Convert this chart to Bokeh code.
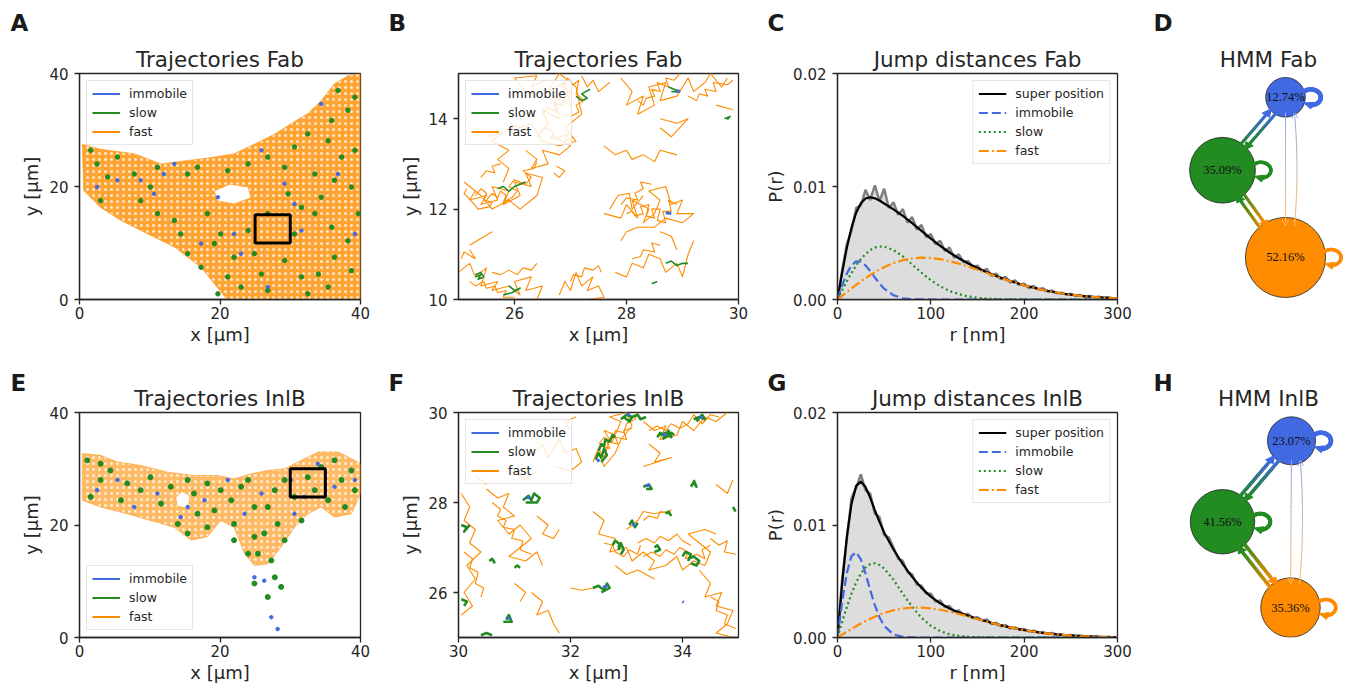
import math
from bokeh.plotting import figure
from bokeh.layouts import row, column
from bokeh.models import Range1d, FixedTicker, Title, Legend, LegendItem, NumeralTickFormatter
from bokeh.embed import file_html
from bokeh.resources import INLINE
from bokeh.core.properties import value

FONT = "DejaVu Sans"
INK = "#262626"
STATES = ["immobile", "slow", "fast"]
COLORS = {"immobile": "#4169e1", "slow": "#228b22", "fast": "#ff8c00"}

# ------------------------------------------------------------------ data
# zoom windows shown in B / F (µm)
fab_zoom_x = [25, 30]
fab_zoom_y = [10, 15]
inlb_zoom_x = [30, 35]
inlb_zoom_y = [25, 30]

# outline of the area covered by trajectories (µm)
fab_cell_x = [0.4, 3, 7.8, 11.6, 15.4, 19.2, 22, 24.9, 27.8, 30.1, 32.5, 34.4, 36.3, 38.2, 40, 40, 21, 17.3, 13.5, 9.7, 5.9, 3, 0.6]
fab_cell_y = [27.5, 26.6, 25.8, 24, 24.6, 25.2, 25.8, 27.5, 29.3, 31.1, 32.9, 35.2, 38.2, 39.6, 40, 0, 0, 5.7, 9.3, 11.6, 14, 16.3, 19.3]
fab_hole_x = [19.6, 22, 24.4, 24.0, 21.4, 19.2]
fab_hole_y = [17.5, 16.9, 18.0, 19.9, 20.4, 19.2]

inlb_cell_x = [0.4, 3, 5.4, 8.7, 12.5, 16.3, 19.7, 22, 24.4, 26.8, 29.2, 31.6, 34, 36.8, 38.7, 40,
               40, 38.7, 36.3, 34.4, 32.5, 30.6, 28.7, 26.8, 24.9, 23.5, 22, 20.1, 18.2, 15.9, 13.5, 10.1, 6.8, 3, 0.4]
inlb_cell_y = [32.7, 32.4, 31.2, 30.6, 29.4, 28.8, 28.8, 28.2, 29.1, 29.7, 30, 31.5, 33, 33, 31.8, 30.9,
               25.6, 22, 21.4, 23.2, 22, 19.6, 16.1, 13.1, 12.8, 14.9, 19.6, 20.8, 17.9, 17.3, 19.6, 20.8, 22, 23.2, 24.4]
inlb_hole_x = [13.9, 15.5, 15.7, 14.6, 13.7]
inlb_hole_y = [23.4, 22.9, 25.2, 26.0, 24.9]

# slow / immobile spots in the overview panels (µm)
fab_slow_pts = [(1.6, 26.4), (2.5, 24), (4, 21.7), (3, 17.5), (5.4, 25.2), (7.8, 22.2), (8.7, 17.5), (10.1, 19.9),
                (11.1, 23.4), (11.1, 15.2), (13.5, 14), (14.4, 11.6), (15.4, 22.2), (16.8, 23.4), (18.2, 15.2),
                (15.4, 8.1), (17.3, 5.7), (19.2, 9.9), (21.1, 4), (22, 7.5), (23, 2.2), (19.7, 1), (24.9, 8.1),
                (25.9, 4.5), (26.8, 1.6), (29.2, 6.9), (31.6, 4), (32.5, 1), (34, 4.5), (35.4, 2.2), (36.3, 7.5),
                (38.7, 5.1), (38.2, 10.4), (35.9, 12.8), (33.5, 15.2), (34.4, 18.1), (36.3, 21.1), (38.7, 19.9),
                (37.3, 25.2), (35.4, 28.1), (35.9, 31.7), (38.2, 33.5), (39.2, 35.8), (36.8, 37), (32.5, 29.3),
                (30.6, 27), (29.2, 23.4), (26.8, 25.2), (24, 24), (21.1, 22.8), (29.7, 18.7), (31.6, 16.3),
                (30.6, 11.6), (24, 12.2), (26.8, 15.2), (20.1, 11.6), (39.7, 15.2), (39.2, 26.4), (33.5, 22.2)]
fab_imm_pts = [(2.5, 19.9), (5.4, 21.1), (12, 22.2), (10.6, 18.7), (13.5, 24), (22, 11.6), (23, 8.1), (31.6, 12.2),
               (29.2, 20.5), (34.4, 34.6), (36.8, 22.2), (26.8, 2.2), (19.7, 18.1), (39.2, 11.6), (30.6, 16.9),
               (8.7, 21.1), (17.3, 9.9), (25.9, 26.4)]
inlb_slow_pts = [(1.1, 31.5), (3, 28), (1.6, 25), (4.4, 29.7), (6.8, 27.4), (5.9, 24.4), (8.7, 26.2), (10.1, 28.5),
                 (11.6, 23.8), (13, 26.8), (14, 20.2), (15.4, 18.5), (16.3, 25.6), (18.2, 27.4), (19.2, 22.6),
                 (20.1, 26.2), (21.6, 24.4), (22, 20.2), (23, 26.8), (24, 28), (24.9, 23.2), (24.9, 17.9),
                 (25.4, 14.9), (26.3, 18.5), (26.8, 23.2), (27.8, 26.2), (29.2, 28), (30.6, 25), (31.6, 20.8),
                 (32.5, 28.5), (33.5, 26.2), (34.4, 30.3), (36.3, 31.5), (37.3, 28), (38.7, 29.7), (39.2, 26.2),
                 (35.4, 24.4), (37.8, 23.2), (28.2, 20.2), (29.2, 17.3), (22, 17.3), (18.2, 19.6), (3, 30.9),
                 (15.4, 28), (16.8, 22), (24, 14.9), (27.3, 13.7), (24.9, 9.6), (26.8, 7.2), (27.8, 10.7), (28.7, 9)]
inlb_imm_pts = [(2.5, 26.2), (5.4, 28), (7.8, 23.2), (11.1, 25.6), (14.4, 21.4), (17.8, 24.4), (21.1, 28), (23.5, 22),
                (25.9, 25.6), (30.1, 28), (33.9, 30.9), (36.3, 26.8), (39.2, 28), (24.9, 10.7), (27.3, 3.6),
                (28.2, 1.5), (26.3, 10.1), (30.6, 22), (15.4, 23.2), (32, 25)]

# trajectories in the zoomed panels (µm), one list of points per trajectory
fab_zoom_traj = {
    "fast": [
        [[26.4, 13.6], [26.6, 13.9], [26.5, 14.2], [26.8, 14.0], [26.7, 14.5], [27.0, 14.3], [26.9, 14.8], [26.6, 14.6], [26.8, 15.0], [27.1, 14.7], [27.2, 14.1], [26.9, 13.8], [27.1, 13.5], [26.8, 13.4], [26.5, 13.5], [26.3, 13.9], [26.1, 13.8], [25.9, 13.9]],
        [[26.2, 14.6], [26.0, 14.9], [26.4, 14.95], [26.3, 14.7], [26.55, 14.85]],
        [[26.2, 13.3], [26.4, 13.1], [26.3, 12.9], [26.6, 13.0], [26.5, 13.3], [26.8, 13.2], [27.0, 13.4], [26.7, 13.6]],
        [[25.1, 12.6], [25.3, 12.4], [25.2, 12.2], [25.5, 12.3], [25.4, 12.1], [25.7, 12.2], [25.6, 12.5], [25.9, 12.4], [25.8, 12.1], [26.1, 12.3], [26.0, 12.6], [26.3, 12.5], [26.2, 12.8], [26.5, 12.7], [26.4, 12.3], [26.1, 12.0], [25.9, 12.2], [25.6, 12.0], [25.4, 12.3], [25.2, 12.5]],
        [[25.8, 12.6], [25.9, 12.9], [25.7, 13.1], [25.9, 13.3], [25.6, 13.5], [25.8, 13.7], [25.5, 13.6]],
        [[25.0, 10.6], [25.2, 10.8], [25.3, 10.5], [25.5, 10.7], [25.4, 10.3], [25.7, 10.4], [25.6, 10.2], [25.9, 10.3], [26.1, 10.1], [26.0, 10.4], [26.3, 10.5], [26.2, 10.2], [26.5, 10.3], [26.4, 10.0]],
        [[25.05, 10.9], [25.1, 11.05], [25.3, 10.9], [25.2, 11.1]],
        [[26.8, 10.1], [26.9, 10.4], [27.0, 10.2], [27.1, 10.6], [27.2, 10.3], [27.4, 10.5], [27.3, 10.2], [27.5, 10.3], [27.6, 10.05], [27.3, 10.0]],
        [[27.6, 11.9], [27.9, 11.8], [28.0, 12.1], [28.2, 11.8], [28.1, 12.2], [28.4, 12.0], [28.3, 11.7], [28.5, 11.9], [28.6, 12.2], [28.4, 12.4], [28.7, 12.5], [28.8, 12.1], [29.0, 12.2], [28.9, 11.9], [29.2, 11.9], [29.0, 11.7], [28.7, 11.8], [28.5, 11.6], [28.2, 11.6], [28.0, 11.5], [27.9, 11.3]],
        [[27.7, 12.0], [27.85, 12.3], [28.05, 12.35], [28.1, 12.0], [28.3, 12.3]],
        [[27.8, 10.6], [28.0, 10.5], [28.1, 10.8], [28.3, 10.7], [28.4, 11.0], [28.6, 10.9], [28.7, 10.6], [28.9, 10.8], [29.0, 10.5], [29.1, 11.0], [29.2, 11.3]],
        [[28.9, 11.1], [28.8, 11.4], [28.6, 11.5]],
        [[27.9, 14.9], [28.1, 14.6], [28.0, 14.3], [28.3, 14.5], [28.2, 14.1], [28.5, 14.3], [28.4, 14.7], [28.7, 14.8], [28.6, 14.4], [28.9, 14.5], [29.1, 14.9], [29.2, 14.6], [29.4, 14.8], [29.5, 15.0], [29.7, 14.7], [29.8, 14.9]],
        [[28.6, 14.0], [28.9, 13.9], [29.1, 14.0], [28.8, 13.6], [28.6, 13.8]],
        [[27.6, 13.4], [27.8, 13.2], [28.0, 13.3], [28.1, 13.1], [28.3, 13.2], [28.5, 13.05], [28.6, 13.3], [28.9, 13.2]],
        [[26.7, 12.8], [26.8, 12.7], [26.9, 12.85], [26.75, 12.95]],
        [[27.2, 14.95], [27.3, 14.7], [27.4, 14.85], [27.5, 14.6], [27.7, 14.8]],
        [[25.2, 11.2], [25.4, 11.35], [25.6, 11.5]],
        [[29.6, 14.3], [29.9, 14.2]],
        [[25.5, 12.2], [25.6, 12.35], [25.7, 12.25], [25.75, 12.4], [25.85, 12.3], [25.8, 12.15], [25.95, 12.25], [26.05, 12.4], [25.9, 12.5], [26.0, 12.65], [26.2, 12.55], [26.3, 12.7], [26.15, 12.85], [26.35, 12.9], [26.4, 13.05]],
        [[25.3, 12.3], [25.4, 12.45], [25.5, 12.35], [25.45, 12.2], [25.6, 12.15], [25.55, 12.05], [25.35, 12.0], [25.25, 12.15], [25.1, 12.35], [25.15, 12.45]],
        [[26.5, 14.1], [26.6, 14.25], [26.75, 14.15], [26.7, 14.35], [26.85, 14.3], [26.9, 14.45], [27.0, 14.6], [26.85, 14.7], [26.95, 14.9], [27.05, 14.75], [27.15, 14.85], [27.1, 14.55], [27.25, 14.4], [27.1, 14.3], [27.15, 14.15], [27.0, 14.05], [26.85, 14.1]],
        [[26.45, 13.7], [26.55, 13.8], [26.7, 13.7], [26.65, 13.55], [26.8, 13.6], [26.95, 13.65], [26.9, 13.5], [27.05, 13.6]],
        [[28.0, 11.9], [28.1, 11.95], [28.15, 11.85], [28.3, 11.9], [28.25, 12.05], [28.4, 12.1], [28.35, 11.85], [28.5, 11.8], [28.45, 12.0], [28.6, 12.0], [28.55, 11.75], [28.7, 11.7], [28.65, 11.95], [28.8, 11.95], [28.75, 12.2], [28.9, 12.1]],
        [[27.9, 12.1], [28.0, 12.25], [28.2, 12.2], [28.15, 12.35], [28.3, 12.45], [28.25, 12.6], [28.45, 12.55]],
        [[28.2, 14.4], [28.3, 14.3], [28.35, 14.45], [28.5, 14.5], [28.45, 14.65], [28.6, 14.6], [28.55, 14.8], [28.75, 14.7], [28.7, 14.9], [28.85, 14.85], [28.95, 15.0]],
        [[29.1, 14.5], [29.25, 14.4], [29.3, 14.55], [29.45, 14.5], [29.4, 14.65], [29.6, 14.6], [29.55, 14.8], [29.8, 14.75], [29.9, 14.85]],
        [[25.2, 10.4], [25.3, 10.3], [25.45, 10.4], [25.5, 10.25], [25.65, 10.3], [25.7, 10.15], [25.85, 10.2], [25.8, 10.05], [26.0, 10.05]],
        [[25.6, 10.6], [25.75, 10.55], [25.9, 10.65], [26.05, 10.55], [26.15, 10.7], [26.3, 10.65], [26.4, 10.8]],
        [[27.0, 10.4], [27.05, 10.55], [27.2, 10.5], [27.25, 10.7], [27.4, 10.65], [27.5, 10.75], [27.55, 10.6]],
        [[28.1, 10.9], [28.25, 10.95], [28.3, 11.1], [28.5, 11.05], [28.45, 11.25], [28.6, 11.2]],
        [[25.4, 12.7], [25.5, 12.85], [25.65, 12.8], [25.6, 12.95], [25.75, 13.0]],
    ],
    "slow": [
        [[25.3, 10.5], [25.4, 10.55], [25.35, 10.45], [25.45, 10.5], [25.4, 10.6], [25.3, 10.55]],
        [[25.9, 10.3], [26.0, 10.2], [26.1, 10.25], [25.95, 10.15], [25.8, 10.1]],
        [[25.7, 12.45], [25.8, 12.5], [25.9, 12.4], [26.0, 12.5], [26.1, 12.55], [26.2, 12.6]],
        [[27.1, 14.5], [27.2, 14.4], [27.3, 14.45], [27.2, 14.55], [27.35, 14.65]],
        [[28.75, 14.7], [28.85, 14.65], [28.95, 14.6], [28.8, 14.6]],
        [[28.7, 10.8], [28.8, 10.85], [28.9, 10.75], [29.0, 10.8], [29.1, 10.8]],
        [[29.75, 14.0], [29.85, 14.05], [29.8, 13.98]],
        [[28.45, 10.35], [28.55, 10.4]],
    ],
    "immobile": [
        [[28.7, 11.92], [28.8, 11.9]],
        [[28.88, 14.6], [28.95, 14.62]],
    ],
}

inlb_zoom_traj = {
    "fast": [
        [[32.4, 28.9], [32.5, 29.2], [32.6, 29.0], [32.7, 29.4], [32.6, 29.6], [32.8, 29.5], [32.9, 29.8], [32.7, 29.9], [33.0, 30.0], [33.1, 29.7], [32.9, 29.4], [32.8, 29.1], [32.6, 28.8], [32.5, 29.1]],
        [[33.3, 29.8], [33.5, 29.6], [33.7, 29.7], [33.6, 29.4], [33.9, 29.5], [34.0, 29.8], [34.2, 29.6], [34.4, 29.9], [34.6, 29.8], [34.8, 30.0]],
        [[33.4, 29.3], [33.6, 29.1], [33.5, 28.9], [33.8, 29.0], [33.3, 28.8]],
        [[31.3, 29.0], [31.5, 29.3], [31.6, 29.0], [31.8, 29.4], [31.9, 29.1], [32.1, 29.2], [32.2, 28.9], [32.0, 28.7], [31.7, 28.8]],
        [[31.0, 28.7], [31.2, 28.5], [31.4, 28.7]],
        [[30.05, 28.2], [30.2, 27.9], [30.1, 27.6], [30.3, 27.4], [30.2, 27.1], [30.4, 26.9], [30.15, 26.6], [30.3, 26.3], [30.1, 26.0], [30.25, 25.7], [30.05, 25.5]],
        [[30.5, 28.3], [30.7, 28.1], [30.9, 28.2], [30.8, 27.9], [31.0, 27.7], [30.7, 27.6], [30.9, 27.3], [31.1, 27.5], [31.3, 27.2], [31.1, 27.0], [30.9, 26.8], [31.2, 26.7], [31.4, 26.9], [31.5, 26.6]],
        [[31.4, 27.7], [31.6, 27.5], [31.5, 27.3], [31.7, 27.2], [31.8, 27.4]],
        [[32.4, 27.8], [32.6, 27.6], [32.5, 27.3], [32.8, 27.2], [32.7, 26.9], [33.0, 27.0], [33.1, 26.7], [33.3, 26.9], [33.5, 26.7], [33.4, 26.5], [33.7, 26.6], [33.9, 26.8], [34.0, 26.5], [34.2, 26.7], [34.4, 26.6], [34.5, 26.9], [34.3, 27.1], [34.1, 27.3], [34.4, 27.4], [34.6, 27.3]],
        [[33.0, 27.4], [33.2, 27.6], [33.3, 27.8], [33.5, 27.75], [33.7, 27.8]],
        [[32.8, 26.6], [33.0, 26.4], [33.2, 26.5], [33.5, 26.3]],
        [[34.3, 26.5], [34.5, 26.2], [34.4, 25.9], [34.7, 26.0], [34.6, 25.7], [34.9, 25.6], [34.8, 25.3], [34.6, 25.1], [34.9, 25.0]],
        [[31.3, 26.0], [31.5, 25.8], [31.4, 25.5], [31.6, 25.6], [31.7, 25.3], [31.8, 25.1]],
        [[31.0, 26.2], [31.2, 26.0], [31.1, 25.8]],
        [[32.0, 26.1], [32.2, 26.05], [32.4, 26.1]],
        [[34.6, 28.4], [34.8, 28.2], [34.9, 28.5]],
        [[32.0, 29.6], [31.9, 29.8], [32.1, 29.9]],
        [[30.3, 28.6], [30.5, 28.4]],
        [[32.5, 29.3], [32.6, 29.45], [32.75, 29.35], [32.8, 29.6], [32.95, 29.55], [33.0, 29.75], [33.15, 29.85], [33.2, 30.0]],
        [[32.45, 29.05], [32.55, 29.25], [32.7, 29.2], [32.65, 29.35], [32.85, 29.3], [32.8, 29.45], [33.0, 29.4], [32.95, 29.6], [33.1, 29.65]],
        [[33.4, 29.6], [33.55, 29.7], [33.7, 29.6], [33.8, 29.75], [33.95, 29.65], [34.1, 29.75], [34.2, 29.95], [34.35, 29.75], [34.5, 29.95], [34.65, 29.9]],
        [[33.3, 26.8], [33.45, 26.9], [33.6, 26.8], [33.7, 26.95], [33.85, 26.85], [33.95, 27.0], [34.1, 26.9], [34.05, 26.75], [34.25, 26.85], [34.4, 26.75], [34.35, 26.95], [34.5, 27.05]],
        [[33.2, 27.1], [33.35, 27.2], [33.5, 27.1], [33.6, 27.25], [33.75, 27.15], [33.9, 27.3], [34.0, 27.15], [34.15, 27.05]],
        [[32.6, 27.1], [32.75, 27.05], [32.8, 26.9], [32.95, 26.8], [33.05, 26.95], [33.2, 26.85], [33.25, 27.05]],
        [[33.3, 27.6], [33.4, 27.7], [33.55, 27.65], [33.6, 27.8], [33.75, 27.75], [33.8, 27.85]],
        [[30.6, 28.0], [30.75, 27.85], [30.7, 27.7], [30.85, 27.6], [30.8, 27.45], [31.0, 27.4], [30.95, 27.2], [31.15, 27.15], [31.1, 26.95], [31.3, 26.85]],
        [[30.1, 26.9], [30.25, 26.75], [30.2, 26.55], [30.35, 26.45], [30.3, 26.2], [30.45, 26.1], [30.4, 25.9]],
        [[34.5, 25.9], [34.65, 25.8], [34.6, 25.6], [34.8, 25.5], [34.75, 25.3], [34.95, 25.2]],
        [[34.5, 27.2], [34.65, 27.05], [34.8, 27.15], [34.75, 26.9], [34.95, 26.85]],
    ],
    "slow": [
        [[32.45, 28.95], [32.5, 29.1], [32.55, 29.0], [32.6, 29.2], [32.65, 29.05], [32.55, 28.9]],
        [[32.9, 29.85], [33.0, 29.95], [33.1, 29.9], [33.05, 29.8], [32.95, 29.9]],
        [[33.6, 29.5], [33.7, 29.55], [33.8, 29.45], [33.75, 29.6], [33.65, 29.4]],
        [[34.2, 29.85], [34.3, 29.9], [34.4, 29.85], [34.35, 29.95], [34.25, 29.8]],
        [[31.15, 28.05], [31.25, 28.15], [31.3, 28.05], [31.35, 28.2], [31.45, 28.1], [31.4, 28.0], [31.2, 28.0]],
        [[30.05, 27.5], [30.15, 27.45], [30.1, 27.35], [30.2, 27.5]],
        [[30.05, 25.85], [30.15, 25.8], [30.1, 25.7]],
        [[33.3, 28.35], [33.4, 28.4], [33.45, 28.3], [33.35, 28.3]],
        [[34.15, 28.35], [34.2, 28.45], [34.25, 28.35], [34.2, 28.5]],
        [[33.05, 27.5], [33.1, 27.6], [33.15, 27.45], [33.2, 27.55]],
        [[32.85, 27.0], [32.9, 27.1], [32.95, 26.95], [32.9, 26.85]],
        [[33.5, 27.0], [33.55, 27.05], [33.6, 26.95], [33.5, 26.9]],
        [[34.1, 26.75], [34.2, 26.8], [34.3, 26.7], [34.25, 26.6], [34.15, 26.65]],
        [[32.4, 26.1], [32.5, 26.15], [32.6, 26.05], [32.65, 26.2], [32.7, 26.1], [32.55, 26.0]],
        [[30.85, 25.4], [30.9, 25.5], [30.95, 25.35], [30.8, 25.35]],
        [[30.4, 25.05], [30.5, 25.1], [30.6, 25.05]],
        [[30.55, 26.7], [30.6, 26.75], [30.65, 26.65]],
        [[31.0, 26.55], [31.05, 26.6], [31.1, 26.55]],
        [[34.95, 27.8], [34.9, 27.9]],
        [[32.5, 29.15], [32.55, 29.3], [32.6, 29.25], [32.62, 29.4], [32.7, 29.35], [32.75, 29.5], [32.8, 29.45]],
        [[33.1, 29.9], [33.2, 29.95], [33.25, 29.85], [33.35, 29.9]],
        [[33.55, 29.45], [33.6, 29.55], [33.7, 29.45], [33.8, 29.55], [33.85, 29.5]],
        [[32.75, 27.05], [32.8, 27.15], [32.9, 27.05], [32.85, 26.95]],
        [[33.7, 27.75], [33.75, 27.8], [33.8, 27.7]],
        [[34.0, 26.8], [34.05, 26.9], [34.15, 26.85], [34.1, 26.7]],
    ],
    "immobile": [
        [[32.47, 28.92], [32.52, 28.95]], [[33.0, 29.95], [33.06, 29.97]], [[33.65, 29.5], [33.72, 29.52]],
        [[34.3, 29.9], [34.36, 29.88]], [[31.22, 28.1], [31.28, 28.12]], [[33.35, 28.37], [33.42, 28.39]],
        [[33.1, 27.5], [33.16, 27.52]], [[32.58, 26.12], [32.66, 26.15]], [[30.86, 25.42], [30.92, 25.44]],
        [[34.0, 25.8], [34.02, 25.78]],
    ],
}

# jump distance distributions
r_fit = [0, 5, 10, 15, 20, 25, 30, 35, 40, 45, 50, 60, 70, 80, 90, 100, 110, 120, 130, 140, 150,
         160, 170, 180, 190, 200, 220, 240, 260, 280, 300]
fab_fit = {
    "super position": [0, 0.00239, 0.00457, 0.00636, 0.00768, 0.00852, 0.00894, 0.00905, 0.00895, 0.00876, 0.0085,
                       0.00797, 0.0074, 0.00676, 0.00608, 0.00538, 0.00474, 0.00416, 0.00365, 0.00319, 0.00278,
                       0.00242, 0.00208, 0.00178, 0.0015, 0.00125, 0.00084, 0.00053, 0.00032, 0.00018, 0.0001],
    "immobile": [0, 0.00124, 0.0023, 0.00303, 0.00337, 0.00334, 0.00302, 0.00252, 0.00195, 0.00142, 0.00096,
                 0.00037, 0.00011, 0.00003, 0.00001, 0, 0, 0, 0, 0, 0, 0, 0, 0, 0, 0, 0, 0, 0, 0, 0],
    "slow": [0, 0.00082, 0.00161, 0.00235, 0.00301, 0.00358, 0.00403, 0.00437, 0.00459, 0.00469, 0.00468,
             0.00438, 0.00381, 0.0031, 0.00237, 0.00171, 0.00117, 0.00076, 0.00047, 0.00027, 0.00015,
             0.00008, 0.00004, 0.00002, 0.00001, 0, 0, 0, 0, 0, 0],
    "fast": [0, 0.00033, 0.00066, 0.00098, 0.0013, 0.0016, 0.00189, 0.00216, 0.00241, 0.00265, 0.00286,
             0.00322, 0.00348, 0.00363, 0.0037, 0.00367, 0.00357, 0.0034, 0.00318, 0.00292, 0.00263,
             0.00234, 0.00204, 0.00176, 0.00149, 0.00125, 0.00084, 0.00053, 0.00032, 0.00018, 0.0001],
}
inlb_fit = {
    "super position": [0, 0.00482, 0.00895, 0.01189, 0.01348, 0.01386, 0.01338, 0.01243, 0.01133, 0.01028, 0.00934,
                       0.00782, 0.00653, 0.00539, 0.00441, 0.00363, 0.00304, 0.00258, 0.00223, 0.00193, 0.00166,
                       0.00142, 0.00119, 0.00099, 0.00081, 0.00065, 0.0004, 0.00023, 0.00013, 0.00006, 0.00003],
    "immobile": [0, 0.00318, 0.00574, 0.00724, 0.00758, 0.00694, 0.00569, 0.00423, 0.00288, 0.0018, 0.00103,
                 0.00027, 0.00005, 0.00001, 0, 0, 0, 0, 0, 0, 0, 0, 0, 0, 0, 0, 0, 0, 0, 0, 0],
    "slow": [0, 0.00138, 0.0027, 0.00389, 0.00489, 0.00568, 0.00623, 0.00653, 0.0066, 0.00645, 0.00613,
             0.00513, 0.0039, 0.00272, 0.00175, 0.00104, 0.00057, 0.00029, 0.00014, 0.00006, 0.00002,
             0.00001, 0, 0, 0, 0, 0, 0, 0, 0, 0],
    "fast": [0, 0.00026, 0.00051, 0.00076, 0.00101, 0.00124, 0.00146, 0.00167, 0.00185, 0.00203, 0.00218,
             0.00242, 0.00258, 0.00266, 0.00266, 0.00259, 0.00247, 0.00229, 0.00209, 0.00187, 0.00164,
             0.00141, 0.00119, 0.00099, 0.00081, 0.00065, 0.0004, 0.00023, 0.00013, 0.00006, 0.00003],
}
hist_r = list(range(0, 301, 5))
fab_hist = [0.0, 0.0026, 0.0049, 0.0061, 0.0081, 0.0083, 0.0097, 0.0088, 0.0101, 0.0087, 0.0098, 0.0081, 0.0086,
            0.0075, 0.0080, 0.0068, 0.0073, 0.0062, 0.0066, 0.0055, 0.0058, 0.0049, 0.0052, 0.0043, 0.0046,
            0.0037, 0.0040, 0.0033, 0.0034, 0.0029, 0.0030, 0.0025, 0.0027, 0.0021, 0.0023, 0.0018, 0.0020,
            0.0015, 0.0017, 0.0013, 0.0014, 0.0010, 0.0012, 0.0009, 0.0010, 0.0007, 0.0008, 0.00055, 0.0006,
            0.00045, 0.0005, 0.00035, 0.0004, 0.00025, 0.0003, 0.0002, 0.00024, 0.00014, 0.00017, 0.0001, 0.00012]
inlb_hist = [0.0, 0.0052, 0.0087, 0.0124, 0.0133, 0.0145, 0.0131, 0.0128, 0.0110, 0.0107, 0.0091, 0.0089, 0.0080,
             0.0070, 0.0068, 0.0058, 0.0056, 0.0047, 0.0046, 0.0039, 0.0039, 0.0032, 0.0033, 0.0027, 0.0028,
             0.0023, 0.0024, 0.0020, 0.0021, 0.0017, 0.0018, 0.0015, 0.0016, 0.0012, 0.0013, 0.0010, 0.0011,
             0.0008, 0.0009, 0.0007, 0.00075, 0.00055, 0.0006, 0.00045, 0.0005, 0.00032, 0.0004, 0.00025, 0.0003,
             0.00018, 0.00022, 0.00014, 0.00017, 0.0001, 0.00012, 0.00007, 0.00008, 0.00005, 0.00006, 0.00003, 0.00004]

# HMM state occupancies (%)
fab_occupancy = {"immobile": 12.74, "slow": 35.09, "fast": 52.16}
inlb_occupancy = {"immobile": 23.07, "slow": 41.56, "fast": 35.36}

# ------------------------------------------------------------------ layout / style
COL_W = [380, 380, 390, 198]
COL_BL = [79, 78, 77, 38]
COL_BR = [20, 22, 33, 0]
ROW_H = [358, 332]
ROW_BT = [73, 54]
ROW_BB = [59, 53]
LETTER_OFFSET = [-69, -70, -70, -35]
LETTER_STANDOFF = [15, -26]

FIT_STYLE = {
    "super position": dict(line_color="black", line_dash="solid"),
    "immobile": dict(line_color=COLORS["immobile"], line_dash="9 4"),
    "slow": dict(line_color=COLORS["slow"], line_dash="2 3"),
    "fast": dict(line_color=COLORS["fast"], line_dash="10 3 2 3"),
}


def make_fig(ci, ri, xr, yr, title, letter, axes=True):
    kw = {}
    if not axes:
        kw = dict(x_axis_type=None, y_axis_type=None)
    p = figure(width=COL_W[ci], height=ROW_H[ri], x_range=Range1d(*xr), y_range=Range1d(*yr),
               output_backend="svg", toolbar_location=None, title_location=None,
               min_border_left=COL_BL[ci], min_border_right=COL_BR[ci],
               min_border_top=ROW_BT[ri], min_border_bottom=(ROW_BB[ri] if axes else 0), **kw)
    main = Title(text=title, text_font=FONT, text_font_size="21.5px", text_font_style="normal",
                 text_color=INK, align="center", standoff=3)
    p.add_layout(main, "above")
    let = Title(text=letter, text_font=FONT, text_font_size="23px", text_font_style="bold",
                text_color="#1a1a1a", align="left", offset=LETTER_OFFSET[ci], standoff=LETTER_STANDOFF[ri])
    p.add_layout(let, "above")
    p.grid.visible = False
    p.background_fill_color = "white"
    p.border_fill_color = "white"
    if axes:
        p.outline_line_color = INK
        p.outline_line_width = 1.3
        p.outline_line_alpha = 1
    else:
        p.outline_line_color = None
    return p


def style_axes(p, xt, yt, xlabel, ylabel, yfmt=None):
    p.xaxis.ticker = FixedTicker(ticks=xt)
    p.yaxis.ticker = FixedTicker(ticks=yt)
    p.xaxis.axis_label = xlabel
    p.yaxis.axis_label = ylabel
    for ax in p.axis:
        ax.axis_line_color = INK
        ax.axis_line_width = 1.3
        ax.major_tick_line_color = INK
        ax.major_tick_line_width = 1.3
        ax.major_tick_out = 5
        ax.major_tick_in = 0
        ax.minor_tick_line_color = None
        ax.major_label_text_font = FONT
        ax.major_label_text_font_size = "15px"
        ax.major_label_text_color = INK
        ax.axis_label_text_font = FONT
        ax.axis_label_text_font_size = "18px"
        ax.axis_label_text_font_style = "normal"
        ax.axis_label_text_color = INK
    p.xaxis.major_label_standoff = 2
    p.xaxis.axis_label_standoff = 2
    p.yaxis.major_label_standoff = 6
    p.yaxis.axis_label_standoff = 4
    if yfmt:
        p.yaxis.formatter = NumeralTickFormatter(format=yfmt)


def add_legend(p, items, loc):
    leg = Legend(items=items, location=loc)
    leg.label_text_font = FONT
    leg.label_text_font_size = "12.5px"
    leg.label_text_color = INK
    leg.glyph_width = 28
    leg.glyph_height = 15
    leg.label_height = 15
    leg.spacing = 4
    leg.padding = 5
    leg.margin = 7
    leg.label_standoff = 9
    leg.border_line_color = "#cccccc"
    leg.border_line_width = 1
    leg.background_fill_alpha = 0.8
    p.add_layout(leg)


def state_legend(p, loc):
    # legend keys only: a short line placed far outside the visible range
    items = []
    for s in STATES:
        r = p.line(x=[-1000, -999], y=[-1000, -999], line_color=COLORS[s], line_width=2)
        items.append(LegendItem(label=s, renderers=[r]))
    add_legend(p, items, loc)


def overview_panel(ci, ri, title, letter, cell_x, cell_y, hole_x, hole_y, fill_alpha, slow_pts, imm_pts,
                   zx, zy, legend_loc, dot):
    p = make_fig(ci, ri, (0, 40), (0, 40), title, letter)
    p.multi_polygons(xs=[[[cell_x, hole_x]]], ys=[[[cell_y, hole_y]]], fill_color=COLORS["fast"],
                     fill_alpha=fill_alpha, line_color=COLORS["fast"], line_alpha=0.5, line_width=1,
                     hatch_pattern="dot", hatch_color="white", hatch_alpha=0.75, hatch_scale=6, hatch_weight=2.5)
    p.scatter([q[0] for q in slow_pts], [q[1] for q in slow_pts], size=dot, color=COLORS["slow"])
    p.scatter([q[0] for q in imm_pts], [q[1] for q in imm_pts], size=3.5, color=COLORS["immobile"])
    p.quad(left=[zx[0]], right=[zx[1]], bottom=[zy[0]], top=[zy[1]], fill_color=None,
           line_color="black", line_width=3)
    style_axes(p, [0, 20, 40], [0, 20, 40], "x [µm]", "y [µm]")
    state_legend(p, legend_loc)
    return p


def zoom_panel(ci, ri, title, letter, zx, zy, traj, xt, yt, slow_w):
    p = make_fig(ci, ri, tuple(zx), tuple(zy), title, letter)
    widths = {"fast": 1.1, "slow": slow_w, "immobile": 3.0}
    for s in ["fast", "slow", "immobile"]:
        xs = [[q[0] for q in t] for t in traj[s]]
        ys = [[q[1] for q in t] for t in traj[s]]
        p.multi_line(xs, ys, line_color=COLORS[s], line_width=widths[s], line_join="round")
    style_axes(p, xt, yt, "x [µm]", "y [µm]")
    state_legend(p, "top_left")
    return p


def jump_panel(ci, ri, title, letter, hist, fit):
    p = make_fig(ci, ri, (0, 300), (0, 0.02), title, letter)
    p.varea(x=hist_r, y1=[0] * len(hist_r), y2=hist, fill_color="#dddddd")
    p.line(hist_r, hist, line_color="#808080", line_width=2.5)
    items = []
    for name in ["super position", "immobile", "slow", "fast"]:
        r = p.line(r_fit, fit[name], line_width=2.2, **FIT_STYLE[name])
        items.append(LegendItem(label=name, renderers=[r]))
    style_axes(p, [0, 100, 200, 300], [0, 0.01, 0.02], "r [nm]", "P(r)", yfmt="0.00")
    add_legend(p, items, "top_right")
    return p


# ------------------------------------------------------------------ HMM graph drawing
def mix(c1, c2, t):
    a = [int(c1[i:i + 2], 16) for i in (1, 3, 5)]
    b = [int(c2[i:i + 2], 16) for i in (1, 3, 5)]
    return "#%02x%02x%02x" % tuple(int(round(a[k] + (b[k] - a[k]) * t)) for k in range(3))


def draw_path(p, pts, c1, c2, w, hl, hw, open_head=False):
    ex, ey = pts[-1]
    cut = hl * 0.75
    keep = [pts[0]] + [q for q in pts[1:-1] if math.hypot(ex - q[0], ey - q[1]) > cut]
    bx, by = keep[-1]
    dx, dy = ex - bx, ey - by
    L = math.hypot(dx, dy)
    dx, dy = dx / L, dy / L
    line_pts = keep + [(ex - dx * cut, ey - dy * cut)]
    n = len(line_pts) - 1
    xs = [[line_pts[i][0], line_pts[i + 1][0]] for i in range(n)]
    ys = [[line_pts[i][1], line_pts[i + 1][1]] for i in range(n)]
    cols = [mix(c1, c2, (i + 0.5) / n) for i in range(n)]
    p.multi_line(xs, ys, line_color=cols, line_width=w, line_cap="round")
    px, py = -dy, dx
    hx = [ex, ex - dx * hl + px * hw / 2, ex - dx * hl - px * hw / 2]
    hy = [ey, ey - dy * hl + py * hw / 2, ey - dy * hl - py * hw / 2]
    if open_head:
        p.line([hx[1], ex, hx[2]], [hy[1], ey, hy[2]], line_color=c2, line_width=w)
    else:
        p.patch(hx, hy, fill_color=c2, line_color=c2, line_width=1)


def draw_hmm(ci, ri, title, letter, occ, pos, k, style):
    x0 = sum(COL_W[:ci]) + COL_BL[ci]
    top = sum(ROW_H[:ri]) + ROW_BT[ri]
    bottom = sum(ROW_H[:ri + 1])
    p = make_fig(ci, ri, (x0, sum(COL_W[:ci + 1]) - COL_BR[ci]), (-bottom, -top), title, letter, axes=False)
    centre = {s: (pos[s][0], -pos[s][1]) for s in STATES}
    rad = {s: k * math.sqrt(occ[s]) for s in STATES}
    p.circle(x=[centre[s][0] for s in STATES], y=[centre[s][1] for s in STATES],
             radius=[rad[s] for s in STATES], fill_color=[COLORS[s] for s in STATES],
             line_color="#222222", line_width=0.8)
    for (a, b, w, off, bend, thin) in style["edges"]:
        A, B = centre[a], centre[b]
        dx, dy = B[0] - A[0], B[1] - A[1]
        L = math.hypot(dx, dy)
        ux, uy = dx / L, dy / L
        nx, ny = -uy, ux
        s0 = (A[0] + ux * rad[a] + nx * off, A[1] + uy * rad[a] + ny * off)
        e0 = (B[0] - ux * rad[b] + nx * off, B[1] - uy * rad[b] + ny * off)
        m0 = ((s0[0] + e0[0]) / 2 + nx * bend, (s0[1] + e0[1]) / 2 + ny * bend)
        N = 24
        pts = [((1 - t) ** 2 * s0[0] + 2 * (1 - t) * t * m0[0] + t * t * e0[0],
                (1 - t) ** 2 * s0[1] + 2 * (1 - t) * t * m0[1] + t * t * e0[1]) for t in (i / N for i in range(N + 1))]
        ca, cb = COLORS[a], COLORS[b]
        if thin:
            ca, cb = mix(ca, "#ffffff", 0.45), mix(cb, "#ffffff", 0.45)
            draw_path(p, pts, ca, cb, w, 7, 6, open_head=True)
        else:
            draw_path(p, pts, ca, cb, w, 10, 9)
    for s, w in style["loops"].items():
        c, r, lr = centre[s], rad[s], style["loop_r"]
        d = r + 0.55 * lr
        a_ = (d * d + r * r - lr * lr) / (2 * d)
        h = math.sqrt(max(r * r - a_ * a_, 0.0))
        phi0 = math.atan2(h, a_ - d)
        N = 30
        pts = [(c[0] + d + lr * math.cos(phi0 - 2 * phi0 * i / N), c[1] + lr * math.sin(phi0 - 2 * phi0 * i / N))
               for i in range(N + 1)]
        draw_path(p, pts, COLORS[s], COLORS[s], w, 9, 9)
    p.text(x=[centre[s][0] for s in STATES], y=[centre[s][1] for s in STATES],
           text=["%.2f%%" % occ[s] for s in STATES], text_font=value("Liberation Serif"),
           text_font_size="12.5px", text_align="center", text_baseline="middle", text_color="#111111")
    return p


fab_graph_pos = {"immobile": (1285, 103), "slow": (1222, 195), "fast": (1285, 305)}
inlb_graph_pos = {"immobile": (1291, 447), "slow": (1222, 547), "fast": (1290, 653)}
fab_graph_style = {
    "edges": [("immobile", "slow", 3.0, 3.5, 0, False), ("slow", "immobile", 3.0, 3.5, 0, False),
              ("slow", "fast", 3.0, 3.5, 0, False), ("fast", "slow", 3.0, 3.5, 0, False),
              ("immobile", "fast", 1.0, 0, 0, True), ("fast", "immobile", 1.0, -9, -5, True)],
    "loops": {"immobile": 4.5, "slow": 3.5, "fast": 3.5},
    "loop_r": 10,
}
inlb_graph_style = {
    "edges": [("immobile", "slow", 3.5, 3.5, 0, False), ("slow", "immobile", 3.5, 3.5, 0, False),
              ("slow", "fast", 3.5, 3.5, 0, False), ("fast", "slow", 3.5, 3.5, 0, False),
              ("immobile", "fast", 1.0, 0, 0, True), ("fast", "immobile", 1.0, -9, -5, True)],
    "loops": {"immobile": 4.5, "slow": 4.0, "fast": 3.5},
    "loop_r": 10,
}

pA = overview_panel(0, 0, "Trajectories Fab", "A", fab_cell_x, fab_cell_y, fab_hole_x, fab_hole_y, 0.8,
                    fab_slow_pts, fab_imm_pts, fab_zoom_x, fab_zoom_y, "top_left", 4.5)
pB = zoom_panel(1, 0, "Trajectories Fab", "B", fab_zoom_x, fab_zoom_y, fab_zoom_traj, [26, 28, 30], [10, 12, 14], 1.6)
pC = jump_panel(2, 0, "Jump distances Fab", "C", fab_hist, fab_fit)
pD = draw_hmm(3, 0, "HMM Fab", "D", fab_occupancy, fab_graph_pos, 5.55, fab_graph_style)

pE = overview_panel(0, 1, "Trajectories InlB", "E", inlb_cell_x, inlb_cell_y, inlb_hole_x, inlb_hole_y, 0.6,
                    inlb_slow_pts, inlb_imm_pts, inlb_zoom_x, inlb_zoom_y, "bottom_left", 5)
pF = zoom_panel(1, 1, "Trajectories InlB", "F", inlb_zoom_x, inlb_zoom_y, inlb_zoom_traj, [30, 32, 34], [26, 28, 30], 2.5)
pG = jump_panel(2, 1, "Jump distances InlB", "G", inlb_hist, inlb_fit)
pH = draw_hmm(3, 1, "HMM InlB", "H", inlb_occupancy, inlb_graph_pos, 5.0, inlb_graph_style)

layout = column(row(pA, pB, pC, pD), row(pE, pF, pG, pH))
open("out.html", "w").write(file_html(layout, INLINE))
